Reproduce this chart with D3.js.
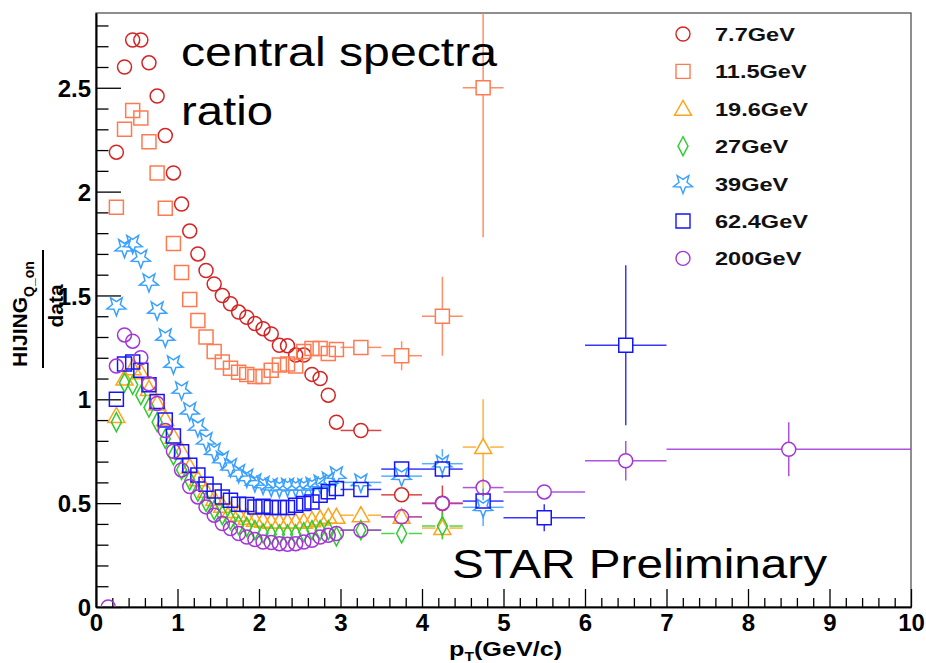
<!DOCTYPE html>
<html>
<head>
<meta charset="utf-8">
<script src="https://cdn.jsdelivr.net/npm/d3@7"></script>
<style>
  html, body { margin: 0; padding: 0; background: #fff; }
  svg { display: block; }
  text { font-family: "Liberation Sans", Arial, Helvetica, sans-serif; }
</style>
</head>
<body>
<svg id="chart" width="926" height="663"></svg>
<script>
// ---------------- data ----------------
const energies = ["7.7GeV", "11.5GeV", "19.6GeV", "27GeV", "39GeV", "62.4GeV", "200GeV"];
const colors   = ["#d42424", "#ff7a50", "#ffa31a", "#2fcc2f", "#38a0ff", "#1414ff", "#a335d6"];
const shapes   = ["circle", "square", "triangle", "diamond", "star", "square", "circle"];

// fine pT bins (width 0.1)
const ptFine = [0.25, 0.35, 0.45, 0.55, 0.65, 0.75, 0.85, 0.95, 1.05, 1.15,
                1.25, 1.35, 1.45, 1.55, 1.65, 1.75, 1.85, 1.95, 2.05, 2.15,
                2.25, 2.35, 2.45, 2.55, 2.65, 2.75, 2.85, 2.95];
const ptFineHalf = 0.05;
// wide pT bins
const ptWide     = [3.25, 3.75, 4.25, 4.75, 5.5, 6.5, 8.5];
const ptWideHalf = [0.25, 0.25, 0.25, 0.25, 0.5, 0.5, 1.5];

const ratio77  = [2.19, 2.60, 2.73, 2.73, 2.62, 2.46, 2.27, 2.09, 1.94, 1.81, 1.70, 1.62, 1.555, 1.50, 1.46, 1.42, 1.395, 1.365, 1.34, 1.315, 1.26, 1.258, 1.213, 1.213, 1.12, 1.10, 1.02, 0.89];
const ratio115 = [1.925, 2.30, 2.39, 2.355, 2.24, 2.09, 1.92, 1.75, 1.61, 1.48, 1.38, 1.30, 1.23, 1.18, 1.15, 1.13, 1.12, 1.11, 1.11, 1.14, 1.165, 1.17, 1.16, 1.23, 1.245, 1.245, 1.22, 1.24];
const ratio196 = [0.92, 1.10, 1.15, 1.13, 1.05, 0.98, 0.905, 0.82, 0.75, 0.675, 0.615, 0.56, 0.52, 0.488, 0.462, 0.445, 0.43, 0.42, 0.415, 0.41, 0.41, 0.41, 0.41, 0.41, 0.418, 0.426, 0.434, 0.434];
const ratio27  = [0.89, 1.08, 1.07, 1.02, 0.96, 0.89, 0.81, 0.73, 0.66, 0.61, 0.555, 0.506, 0.466, 0.442, 0.418, 0.394, 0.386, 0.37, 0.355, 0.35, 0.35, 0.35, 0.35, 0.36, 0.37, 0.37, 0.37, 0.34];
const ratio39  = [1.45, 1.73, 1.75, 1.68, 1.565, 1.43, 1.30, 1.17, 1.045, 0.945, 0.867, 0.80, 0.75, 0.71, 0.675, 0.646, 0.624, 0.602, 0.59, 0.58, 0.575, 0.58, 0.578, 0.578, 0.585, 0.595, 0.61, 0.635];
const ratio624 = [1.0, 1.17, 1.18, 1.14, 1.07, 0.99, 0.90, 0.823, 0.747, 0.683, 0.635, 0.591, 0.558, 0.53, 0.514, 0.495, 0.493, 0.482, 0.485, 0.479, 0.479, 0.479, 0.49, 0.498, 0.506, 0.538, 0.555, 0.57];
const ratio200 = [1.16, 1.31, 1.28, 1.20, 1.075, 0.98, 0.85, 0.75, 0.66, 0.58, 0.53, 0.482, 0.442, 0.402, 0.378, 0.354, 0.337, 0.325, 0.313, 0.31, 0.305, 0.302, 0.305, 0.313, 0.321, 0.337, 0.345, 0.354];

// wide-bin values and errors (null = no point)
const wide77   = [0.85, 0.54, 0.50, null, null, null, null];
const wErr77   = [0.02, 0.03, 0.085, 0, 0, 0, 0];
const wide115  = [1.25, 1.21, 1.40, 2.50, null, null, null];
const wErr115  = [0.025, 0.07, 0.19, 0.72, 0, 0, 0];
const wide196  = [0.442, 0.434, 0.38, 0.77, null, null, null];
const wErr196  = [0.01, 0.015, 0.05, 0.23, 0, 0, 0];
const wide27   = [0.37, 0.354, 0.39, null, null, null, null];
const wErr27   = [0.01, 0.015, 0.065, 0, 0, 0, 0];
const wide39   = [0.60, 0.63, 0.69, 0.48, null, null, null];
const wErr39   = [0.02, 0.03, 0.07, 0.09, 0, 0, 0];
const wide624  = [0.566, 0.664, 0.664, 0.51, 0.43, 1.26, null];
const wErr624  = [0.015, 0.02, 0.04, 0.03, 0.065, 0.385, 0];
const wide200  = [0.37, 0.434, 0.498, 0.575, 0.554, 0.704, 0.759];
const wErr200  = [0.01, 0.02, 0.03, 0.04, 0.03, 0.095, 0.13];
// extra low-pT 200 GeV point
const lowPt200 = [0.15];
const lowVal200 = [0.0];

const fineVals = [ratio77, ratio115, ratio196, ratio27, ratio39, ratio624, ratio200];
const wideVals = [wide77, wide115, wide196, wide27, wide39, wide624, wide200];
const wideErrs = [wErr77, wErr115, wErr196, wErr27, wErr39, wErr624, wErr200];

const xMajor = [0, 1, 2, 3, 4, 5, 6, 7, 8, 9, 10];
const yMajor = [0, 0.5, 1, 1.5, 2, 2.5];

// ---------------- layout ----------------
const W = 926, H = 663;
const L = 96, R = 911, T = 13, B = 607;
const x = d3.scaleLinear().domain([0, 10]).range([L, R]);
const y = d3.scaleLinear().domain([0, 2.86]).range([B, T]);

const svg = d3.select("#chart");
svg.append("defs").append("clipPath").attr("id", "plotclip")
  .append("rect").attr("x", L).attr("y", T).attr("width", R - L).attr("height", B - T);

// frame
svg.append("rect").attr("x", L).attr("y", T).attr("width", R - L).attr("height", B - T)
  .attr("fill", "none").attr("stroke", "#444").attr("stroke-width", 1.2);

// axes
const xMinor = d3.range(0, 10.001, 0.2).filter(v => Math.abs(v - Math.round(v)) > 1e-6);
const yMinor = d3.range(0, 2.86, 0.1).filter(v => Math.abs(v * 2 - Math.round(v * 2)) > 1e-6);

const gx = svg.append("g").attr("transform", `translate(0,${B})`);
gx.call(d3.axisBottom(x).tickValues(xMajor).tickSize(-18).tickSizeOuter(0).tickPadding(24).tickFormat(d3.format("d")));
gx.append("g").call(d3.axisBottom(x).tickValues(xMinor).tickSize(-9).tickSizeOuter(0).tickFormat(""));
const gy = svg.append("g").attr("transform", `translate(${L},0)`);
gy.call(d3.axisLeft(y).tickValues(yMajor).tickSize(-25).tickSizeOuter(0).tickPadding(5).tickFormat(d => d === 0 ? "0" : String(d)));
gy.append("g").call(d3.axisLeft(y).tickValues(yMinor).tickSize(-12.5).tickSizeOuter(0).tickFormat(""));

[gx, gy].forEach(g => {
  g.selectAll("path.domain").attr("stroke", "#000").attr("stroke-width", 1.6);
  g.selectAll("line").attr("stroke", "#000").attr("stroke-width", 1.3);
  g.selectAll("text").attr("fill", "#000").attr("font-size", 24).attr("font-weight", "bold")
    .attr("font-family", "Liberation Sans, Arial, sans-serif");
});
gx.selectAll(".tick text").attr("dy", "0");
gy.selectAll(".tick text").attr("dy", "0.36em");

// ---------------- markers ----------------
function markerPath(shape) {
  switch (shape) {
    case "circle":
      return "M7,0 A7,7 0 1,1 -7,0 A7,7 0 1,1 7,0 Z";
    case "square":
      return "M-7,-7 L7,-7 L7,7 L-7,7 Z";
    case "triangle":
      return "M0,-8.5 L8.5,6.5 L-8.5,6.5 Z";
    case "diamond":
      return "M0,-9.5 L5,0 L0,9.5 L-5,0 Z";
    case "star": {
      const pts = [];
      for (let i = 0; i < 10; i++) {
        const ang = Math.PI / 2 + i * Math.PI / 5; // starts pointing down (screen coords)
        const rr = i % 2 === 0 ? 10 : 4.2;
        pts.push([rr * Math.cos(ang), rr * Math.sin(ang)]);
      }
      return "M" + pts.map(p => p[0].toFixed(2) + "," + p[1].toFixed(2)).join(" L") + " Z";
    }
  }
}

const plot = svg.append("g").attr("clip-path", "url(#plotclip)");
const gap = 7;

function drawErrors(g, px, py, xl, xh, yl, yh, color) {
  const cx = x(px), cy = y(py);
  const segs = [];
  if (cx - x(xl) > gap) segs.push([x(xl), cy, cx - gap, cy]);
  if (x(xh) - cx > gap) segs.push([cx + gap, cy, x(xh), cy]);
  if (cy - y(yh) > gap) segs.push([cx, y(yh), cx, cy - gap]);
  if (y(yl) - cy > gap) segs.push([cx, cy + gap, cx, y(yl)]);
  segs.forEach(s => g.append("line")
    .attr("x1", s[0]).attr("y1", s[1]).attr("x2", s[2]).attr("y2", s[3])
    .attr("stroke", color).attr("stroke-width", 1.5).attr("stroke-opacity", 0.85));
}

energies.forEach((e, si) => {
  const g = plot.append("g");
  const color = colors[si];
  const pts = [];
  if (si === 6) lowPt200.forEach((p, i) => pts.push({ px: p, py: lowVal200[i], xh: 0.05, ye: 0 }));
  ptFine.forEach((p, i) => pts.push({ px: p, py: fineVals[si][i], xh: ptFineHalf, ye: 0 }));
  ptWide.forEach((p, i) => {
    const v = wideVals[si][i];
    if (v !== null) pts.push({ px: p, py: v, xh: ptWideHalf[i], ye: wideErrs[si][i] });
  });
  pts.forEach(d => drawErrors(g, d.px, d.py, d.px - d.xh, d.px + d.xh, d.py - d.ye, d.py + d.ye, color));
  g.selectAll("path.m").data(pts).enter().append("path")
    .attr("class", "m")
    .attr("d", markerPath(shapes[si]))
    .attr("transform", d => `translate(${x(d.px)},${y(d.py)})`)
    .attr("fill", "none").attr("stroke", color).attr("stroke-width", 1.5);
});

// ---------------- legend ----------------
const leg = svg.append("g");
energies.forEach((e, i) => {
  const cy = 34 + i * 37.4;
  leg.append("path").attr("d", markerPath(shapes[i]))
    .attr("transform", `translate(683,${cy})`)
    .attr("fill", "none").attr("stroke", colors[i]).attr("stroke-width", 1.4);
  leg.append("text").attr("transform", `translate(715,${cy + 7}) scale(1.24,1)`)
    .attr("font-size", 19).attr("font-weight", "bold").attr("fill", "#111")
    .text(e);
});

// ---------------- annotations ----------------
svg.append("text").attr("x", 181).attr("y", 66).attr("font-size", 40)
  .attr("textLength", 316).attr("lengthAdjust", "spacingAndGlyphs").text("central spectra");
svg.append("text").attr("x", 181).attr("y", 125).attr("font-size", 40)
  .attr("textLength", 92).attr("lengthAdjust", "spacingAndGlyphs").text("ratio");
svg.append("text").attr("x", 452).attr("y", 578).attr("font-size", 40)
  .attr("textLength", 375).attr("lengthAdjust", "spacingAndGlyphs").text("STAR Preliminary");

// x title
const xt = svg.append("text").attr("transform", "translate(449,656) scale(1.2,1)")
  .attr("font-size", 21).attr("font-weight", "bold");
xt.append("tspan").text("p");
xt.append("tspan").attr("font-size", 13).attr("dy", 5).text("T");
xt.append("tspan").attr("dy", -5).text("(GeV/c)");

// y title (fraction)
const yt = svg.append("g").attr("transform", "rotate(-90)");
const num = yt.append("text").attr("x", -367).attr("y", 27).attr("font-size", 21).attr("font-weight", "bold");
num.append("tspan").text("HIJING");
num.append("tspan").attr("font-size", 14).attr("dy", 7).text("Q_on");
yt.append("line").attr("x1", -368).attr("x2", -250).attr("y1", 43).attr("y2", 43)
  .attr("stroke", "#000").attr("stroke-width", 2);
yt.append("text").attr("x", -306).attr("y", 63).attr("font-size", 21).attr("font-weight", "bold")
  .attr("text-anchor", "middle").text("data");
</script>
</body>
</html>
